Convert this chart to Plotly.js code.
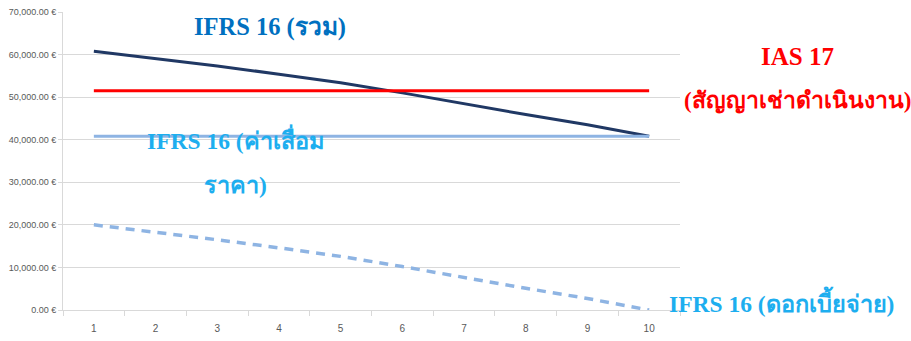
<!DOCTYPE html>
<html>
<head>
<meta charset="utf-8">
<script src="https://cdn.plot.ly/plotly-3.0.1.min.js"></script>
<style>html,body{margin:0;padding:0;background:#fff;}#chart{width:911px;height:341px;}</style>
</head>
<body>
<div id="chart"></div>
<script>
var years = ['1','2','3','4','5','6','7','8','9','10'];
var ifrsTotal = [60800, 59100, 57300, 55400, 53400, 51000, 48400, 45900, 43500, 40800];
var ias17 = [51500, 51500, 51500, 51500, 51500, 51500, 51500, 51500, 51500, 51500];
var depreciation = [40800, 40800, 40800, 40800, 40800, 40800, 40800, 40800, 40800, 40800];
var interest = [20000, 18300, 16500, 14600, 12600, 10200, 7600, 5100, 2700, 0];
var yTicks = [0, 10000, 20000, 30000, 40000, 50000, 60000, 70000];
var yTickText = ['0.00 €', '10,000.00 €', '20,000.00 €', '30,000.00 €', '40,000.00 €', '50,000.00 €', '60,000.00 €', '70,000.00 €'];

var lblFont = 'Liberation Serif, Times New Roman, serif';
var tickFont = {family: 'Liberation Sans Narrow, Arial Narrow, Liberation Sans, Arial, sans-serif', size: 9, color: '#595959'};

var traces = [
  {x: years, y: ifrsTotal, type: 'scatter', mode: 'lines', line: {color: '#203864', width: 3}, hoverinfo: 'skip'},
  {x: years, y: ias17, type: 'scatter', mode: 'lines', line: {color: '#FF0000', width: 3}, hoverinfo: 'skip'},
  {x: years, y: depreciation, type: 'scatter', mode: 'lines', line: {color: '#8EB4E3', width: 3}, hoverinfo: 'skip'},
  {x: years, y: interest, type: 'scatter', mode: 'lines', line: {color: '#8EB4E3', width: 3.5, dash: '9px,7px'}, hoverinfo: 'skip'}
];

function ann(text, x, y, color, size) {
  return {text: text, x: x, y: y, xref: 'paper', yref: 'paper', xanchor: 'center', yanchor: 'middle',
    showarrow: false, font: {family: lblFont, size: size, color: color, weight: 'bold'}};
}

var layout = {
  width: 911, height: 341,
  margin: {l: 63, r: 231, t: 12, b: 31},
  paper_bgcolor: '#ffffff', plot_bgcolor: '#ffffff',
  showlegend: false,
  xaxis: {
    type: 'category', tickson: 'boundaries', ticks: 'outside', ticklen: 5, tickcolor: '#D9D9D9',
    showgrid: false, showline: true, linecolor: '#D9D9D9', linewidth: 1,
    tickfont: {family: tickFont.family, size: 10, color: '#595959'}, ticklabelstandoff: 9,
    range: [-0.5, 9.5], fixedrange: true
  },
  yaxis: {
    range: [0, 70000], tickmode: 'array', tickvals: yTicks, ticktext: yTickText,
    showgrid: true, gridcolor: '#D9D9D9', gridwidth: 1, zeroline: false,
    showline: true, linecolor: '#D9D9D9', ticks: 'outside', ticklen: 4, tickcolor: '#D9D9D9',
    tickfont: tickFont, fixedrange: true
  },
  annotations: [
    ann('IFRS 16 (รวม)', 0.335, 0.95, '#0070C0', 24.5),
    ann('IAS 17', 1.19, 0.849, '#FF0000', 25),
    ann('(สัญญาเช่าดำเนินงาน)', 1.19, 0.701, '#FF0000', 23),
    ann('IFRS 16 (ค่าเสื่อม', 0.280, 0.574, '#1DAEEF', 23.5),
    ann('ราคา)', 0.280, 0.419, '#1DAEEF', 23.5),
    ann('IFRS 16 (ดอกเบี้ยจ่าย)', 1.165, 0.030, '#1DAEEF', 23.5)
  ]
};

Plotly.newPlot('chart', traces, layout, {displayModeBar: false, staticPlot: true});
</script>
</body>
</html>
